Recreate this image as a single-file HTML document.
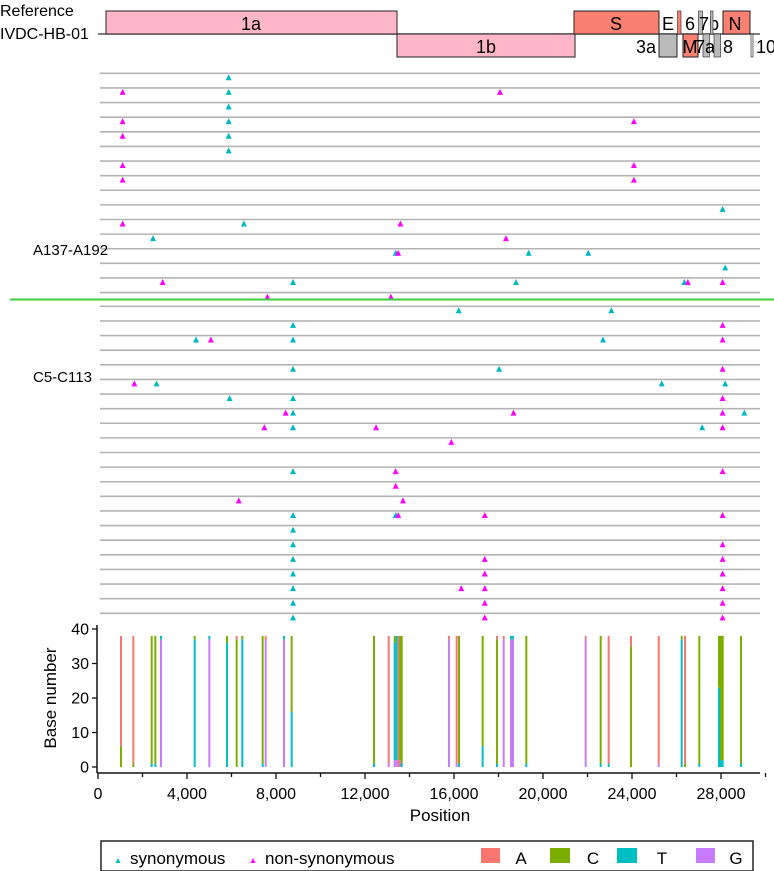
<!DOCTYPE html>
<html><head><meta charset="utf-8">
<style>
html,body{margin:0;padding:0;background:#fff;}
svg{display:block;font-family:"Liberation Sans",Arial,sans-serif;}
</style></head>
<body>
<svg id="chart" width="774" height="871" viewBox="0 0 774 871" xmlns="http://www.w3.org/2000/svg">
  <g id="genome">
    <text x="0" y="16" font-size="16">Reference</text>
    <text x="0" y="39" font-size="16">IVDC-HB-01</text>
    <line x1="98" y1="34" x2="760" y2="34" stroke="#555" stroke-width="1.5"/>
    <rect x="106" y="11" width="291" height="23" fill="#ffb6c8" stroke="#222"/>
    <text x="251" y="30" font-size="18" text-anchor="middle">1a</text>
    <rect x="397" y="34" width="178" height="23" fill="#ffb6c8" stroke="#222"/>
    <text x="486" y="53" font-size="18" text-anchor="middle">1b</text>
    <rect x="574" y="11" width="85" height="23" fill="#fa8072" stroke="#222"/>
    <text x="616" y="30" font-size="18" text-anchor="middle">S</text>
    <text x="668" y="30" font-size="18" text-anchor="middle">E</text>
    <rect x="677.5" y="11" width="3.5" height="23" fill="#fa8072" stroke="#222" stroke-width="0.6"/>
    <text x="690" y="30" font-size="18" text-anchor="middle">6</text>
    <rect x="698.5" y="11" width="4" height="23" fill="#bbb" stroke="#222" stroke-width="0.6"/>
    <text x="709" y="30" font-size="18" text-anchor="middle">7b</text>
    <rect x="710.5" y="11" width="2.5" height="23" fill="#bbb" stroke="#222" stroke-width="0.6"/>
    <rect x="723" y="11" width="27" height="23" fill="#fa8072" stroke="#222"/>
    <text x="735" y="30" font-size="18" text-anchor="middle">N</text>
    <rect x="659" y="34" width="18" height="23" fill="#bbb" stroke="#222"/>
    <text x="656" y="53" font-size="18" text-anchor="end">3a</text>
    <rect x="683" y="34" width="15" height="23" fill="#fa8072" stroke="#222"/>
    <rect x="703" y="34" width="6.5" height="23" fill="#bbb" stroke="#222" stroke-width="0.6"/>
    <text x="690" y="53" font-size="18" text-anchor="middle">M</text>
    <text x="705" y="53" font-size="18" text-anchor="middle">7a</text>
    <rect x="714" y="34" width="6.5" height="23" fill="#bbb" stroke="#222" stroke-width="0.6"/>
    <text x="728" y="53" font-size="18" text-anchor="middle">8</text>
    <rect x="751" y="34" width="2" height="23" fill="#eee" stroke="#222" stroke-width="0.6"/>
    <text x="756" y="53" font-size="18">10</text>
  </g>
  <g id="rows"></g>
  <line x1="10" y1="299.5" x2="774" y2="299.5" stroke="#3ccc3c" stroke-width="2"/>
  <text x="33" y="255" font-size="15">A137-A192</text>
  <text x="33" y="382" font-size="15">C5-C113</text>
  <g id="bars"></g>
  <g id="axes"></g>
  <text x="440" y="821" font-size="17" text-anchor="middle">Position</text>
  <text transform="translate(56,698) rotate(-90)" font-size="17" text-anchor="middle">Base number</text>
  <g id="legend">
    <rect x="101" y="841" width="652" height="30" fill="#fff" stroke="#222" stroke-width="1.5"/>
    <path d="M118,858 l-2.5,5 h5 z" fill="#00b8c4"/>
    <text x="130" y="864" font-size="17">synonymous</text>
    <path d="M253,858 l-2.5,5 h5 z" fill="#f0f"/>
    <text x="265" y="864" font-size="17">non-synonymous</text>
    <rect x="481" y="848" width="19" height="15" fill="#f8766d"/>
    <text x="521" y="864" font-size="17" text-anchor="middle">A</text>
    <rect x="550" y="848" width="20" height="15" fill="#7cae00"/>
    <text x="593" y="864" font-size="17" text-anchor="middle">C</text>
    <rect x="617" y="848" width="20" height="15" fill="#00bfc4"/>
    <text x="662" y="864" font-size="17" text-anchor="middle">T</text>
    <rect x="696" y="848" width="19" height="15" fill="#c77cff"/>
    <text x="736" y="864" font-size="17" text-anchor="middle">G</text>
  </g>
</svg>
<script>
// ---- data ----
const groupARowsSyn = [[5874],[5874],[5874],[5874],[5874],[5874],[],[],[],[28072],[6557],[2473],[13379,19357,22035],[28189],[8766,18787,26352],[]];
const groupARowsNon = [[],[1106,18067],[],[1106,24085],[1106],[],[1106,24085],[1106,24085],[],[],[1106,13592],[18337],[13490],[],[2904,26509,28072],[7613,13163]];
const groupCRowsSyn = [[16211,23070],[8766],[4409,8766,22697],[],[8766,18027],[2630,25337,28189],[5914,8766],[8766,29048],[8766,27155],[],[],[8766],[],[],[8766,13379],[8766],[8766],[8766],[8766],[8766],[8766],[8766]];
const groupCRowsNon = [[],[28072],[5073,28072],[],[28072],[1633],[28072],[8434,18674,28072],[7476,12499,28072],[15879],[],[13379,28072],[13379],[6324,13708],[13490,17384,28072],[],[28072],[17384,28072],[17384,28072],[16328,17384,28072],[17384,28072],[17384,28072]];

const barPositions   = [1034,1588,2412,2577,2831,4345,5004,5798,6232,6486,7401,7537,8359,8704,12404,13064,13333,13422,13512,13586,13649,15775,16120,16225,17288,17933,18233,18562,18652,19250,21918,22593,22952,23955,25200,26233,26382,27025,27910,28000,28076,28899];
const barMainBase    = ["A","A","C","C","G","T","G","T","C","T","C","G","G","C","C","A","T","T","A","C","C","G","A","C","C","C","G","G","G","C","G","C","A","C","A","T","A","C","C","C","C","C"];
const barBottomBase  = ["C","C","T","T","","","","","","","T","","","T","T","G","G","G","","G","T","","G","T","T","T","","","","T","","T","T","","G","","C","T","T","T","T","T"];
const barBottomCount = [6,1,1,1,0,0,0,0,0,0,1,0,0,16,1,1,2,2,0,2,1,0,1,1,6,1,0,0,0,1,0,1,1,0,1,0,1,1,23,2,2,1];
const barTopBase     = ["","","","","T","C","T","C","A","C","","A","T","","","","C","","","","","A","","","","A","A","T","T","","A","","","A","","C","","","","","",""];
const barTopCount    = [0,0,0,0,1,1,1,2,1,1,0,1,1,0,0,0,2,0,0,0,0,1,0,0,0,1,1,1,1,0,1,0,0,3,0,1,0,0,0,0,0,0];
const totalBases = 38;
const xTicks = [0,4000,8000,12000,16000,20000,24000,28000];
const xTickLabels = ["0","4,000","8,000","12,000","16,000","20,000","24,000","28,000"];
const yTicks = [0,10,20,30,40];

// ---- scales ----
const NS = "http://www.w3.org/2000/svg";
const xs = p => 98 + p * 0.02225;
const ys = v => 767 - v * 3.45;
const baseColor = {A:"#f8766d",C:"#7cae00",T:"#00bfc4",G:"#c77cff"};
function mk(tag, attrs, parent){const e=document.createElementNS(NS,tag);for(const k in attrs)e.setAttribute(k,attrs[k]);parent.appendChild(e);return e;}

const rowsG = document.getElementById('rows');
function drawGroup(syn, non, y0){
  syn.forEach((r,i)=>{
    const y = y0 + i*14.62;
    const ln = mk('line',{x1:100,y1:y,x2:760,y2:y,stroke:'#b4b4b4','stroke-width':1.6},rowsG);
    
    
    r.forEach(p=>{
      const t = mk('path',{d:`M${xs(p)},${y+1} l-3,6 h6 z`,fill:'#00b8c4'},rowsG);
      
      
    });
    non[i].forEach(p=>{
      const t = mk('path',{d:`M${xs(p)},${y+1} l-3,6 h6 z`,fill:'#f0f'},rowsG);
      
      
    });
  });
}
drawGroup(groupARowsSyn, groupARowsNon, 73.3);
drawGroup(groupCRowsSyn, groupCRowsNon, 306.3);

const barsG = document.getElementById('bars');
barPositions.forEach((p,i)=>{
  const segs = [];
  if(barBottomCount[i]>0) segs.push([barBottomBase[i], barBottomCount[i]]);
  segs.push([barMainBase[i], totalBases - barBottomCount[i] - barTopCount[i]]);
  if(barTopCount[i]>0) segs.push([barTopBase[i], barTopCount[i]]);
  let acc = 0;
  segs.forEach(s=>{
    const r = mk('rect',{x:xs(p)-1,y:ys(acc+s[1]),width:2,height:ys(acc)-ys(acc+s[1]),fill:baseColor[s[0]]},barsG);
    
    
    acc += s[1];
  });
});

const ax = document.getElementById('axes');
const xl = mk('line',{x1:97,y1:773,x2:760,y2:773,stroke:'#111','stroke-width':1.5},ax);


const yl = mk('line',{x1:97,y1:625,x2:97,y2:773,stroke:'#111','stroke-width':1.5},ax);


for(let v=0; v<=30000; v+=2000){
  const t = mk('line',{x1:xs(v),y1:773,x2:xs(v),y2:(v%4000===0?779:777),stroke:'#111','stroke-width':1.3},ax);
  
  
}
xTicks.forEach((v,i)=>{
  const t = mk('text',{x:xs(v),y:799,'font-size':16,'text-anchor':'middle'},ax);
  t.textContent = xTickLabels[i];
  
  
});
yTicks.forEach(v=>{
  const tk = mk('line',{x1:92,y1:ys(v),x2:97,y2:ys(v),stroke:'#111','stroke-width':1.3},ax);
  
  
  const t = mk('text',{x:89,y:ys(v)+5.5,'font-size':16,'text-anchor':'end'},ax);
  t.textContent = String(v);
  
  
});
</script>
</body></html>
